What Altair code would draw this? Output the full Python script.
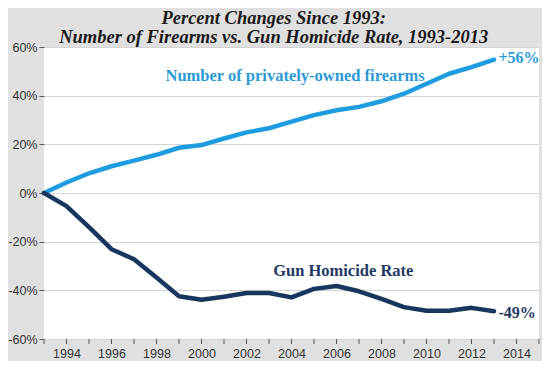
import altair as alt
import pandas as pd

years = list(range(1993, 2014))
firearms = [0, 4.3, 8.1, 11.0, 13.3, 15.7, 18.6, 19.7, 22.4, 24.9, 26.6,
            29.3, 32.0, 34.0, 35.4, 37.7, 40.8, 44.9, 49.0, 51.7, 54.8]
homicide = [0, -5.4, -14.0, -23.1, -27.2, -34.7, -42.4, -43.9, -42.6, -41.1, -41.1,
            -42.9, -39.4, -38.2, -40.4, -43.5, -46.9, -48.4, -48.4, -47.2, -48.6]
series_names = ["Number of privately-owned firearms", "Gun Homicide Rate"]
series_colors = ["#1E9CE0", "#17375E"]
end_labels = ["+56%", "-49%"]
y_ticks = [-60, -40, -20, 0, 20, 40, 60]
x_labels = list(range(1994, 2015, 2))
x_ticks = list(range(1993, 2016))

df = pd.DataFrame({
    "year": years * 2,
    "value": firearms + homicide,
    "series": [series_names[0]] * len(years) + [series_names[1]] * len(years),
})
tick_df = pd.DataFrame({"year": x_ticks})

x_scale = alt.Scale(domain=[1993, 2015], nice=False, zero=False)
x_enc = alt.X(
    "year:Q",
    scale=x_scale,
    axis=alt.Axis(
        values=x_labels, format="d", ticks=False, grid=False, domain=False,
        labelFont="Liberation Sans", labelFontSize=12.5,
        labelColor="#333333", labelPadding=8, title=None,
    ),
)
y_enc = alt.Y(
    "value:Q",
    scale=alt.Scale(domain=[-60, 60], nice=False),
    axis=alt.Axis(
        values=y_ticks, labelExpr="datum.value + '%'", grid=True,
        gridColor="#d4d4d4", gridWidth=1, domain=False, tickSize=5,
        tickColor="#555555", labelFont="Liberation Sans", labelFontSize=12.5,
        labelColor="#333333", labelPadding=2, title=None,
    ),
)

lines = alt.Chart(df).mark_line(strokeWidth=4.5, strokeCap="round", strokeJoin="round").encode(
    x=x_enc, y=y_enc,
    color=alt.Color("series:N", scale=alt.Scale(domain=series_names, range=series_colors), legend=None),
)

minor_ticks = alt.Chart(tick_df).mark_rule(color="#555555", strokeWidth=1).encode(
    x=alt.X("year:Q", scale=x_scale),
    y=alt.value(292), y2=alt.value(297),
)

def label(text, xv, yv, color, align, size):
    return alt.Chart().mark_text(
        text=text, font="Liberation Serif", fontWeight="bold", fontSize=size,
        color=color, align=align, baseline="middle",
    ).encode(x=alt.datum(xv), y=alt.datum(yv))

chart = alt.layer(
    lines,
    minor_ticks,
    label(series_names[0], 1998.4, 48, "#2A9AD6", "left", 16.5),
    label(series_names[1], 2006.3, -32, "#1F3864", "center", 16.5),
    label(end_labels[0], 2013.2, 55.5, "#2A9AD6", "left", 16),
    label(end_labels[1], 2013.2, -49.5, "#1F3864", "left", 16),
).properties(
    width=495, height=292,
    title=alt.Title(
        ["Percent Changes Since 1993:", "Number of Firearms vs. Gun Homicide Rate, 1993-2013"],
        font="Liberation Serif", fontSize=18.5, fontStyle="italic", fontWeight="bold",
        color="#1a1a1a", anchor="middle", frame="bounds", offset=8, dy=13, lineHeight=19,
    ),
    background="#e0e0e0",
    padding={"left": 36, "top": 39, "right": 3, "bottom": 22},
    autosize=alt.AutoSizeParams(type="none"),
).configure_view(fill="white", stroke=None)

chart.save("out.html", embed_options={"renderer": "svg", "actions": False})
